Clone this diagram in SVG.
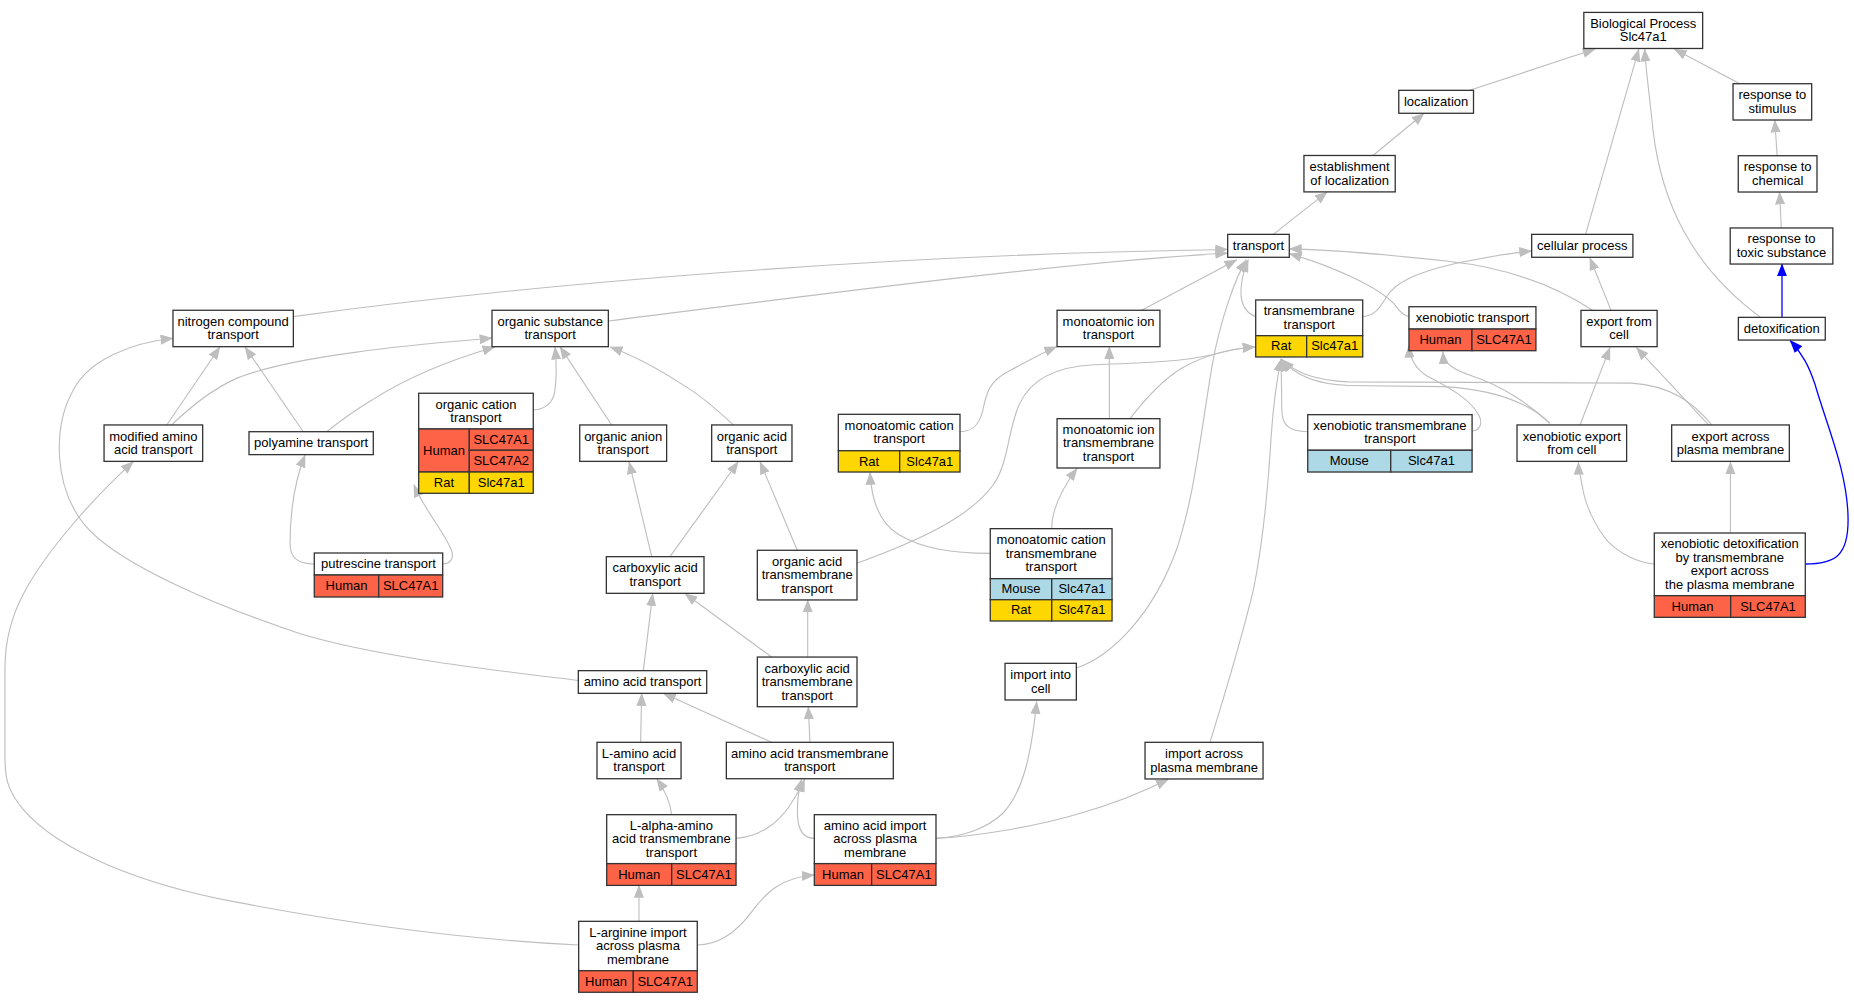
<svg xmlns="http://www.w3.org/2000/svg" width="1854" height="1003" viewBox="0 0 1854 1003">
<style>
.n rect{fill:#ffffff;stroke:#333333;stroke-width:1.1}
.n rect.r{fill:#ff6347}
.n rect.y{fill:#ffd700}
.n rect.l{fill:#add8e6}
.n text{font-family:"Liberation Sans",Arial,sans-serif;font-size:11px;text-anchor:middle;fill:#000000}
.e path{fill:none;stroke:#bebebe;stroke-width:0.95;marker-end:url(#ag)}
.e path.b{stroke:#0000ff;stroke-width:1.1;marker-end:url(#ab)}
</style>
<defs>
<marker id="ag" viewBox="0 0 11 8.6" refX="10.5" refY="4.3" markerWidth="11" markerHeight="8.6" markerUnits="userSpaceOnUse" orient="auto"><path d="M0,0 L11,4.3 L0,8.6 z" fill="#bebebe"/></marker>
<marker id="ab" viewBox="0 0 11 8.6" refX="10.5" refY="4.3" markerWidth="11" markerHeight="8.6" markerUnits="userSpaceOnUse" orient="auto"><path d="M0,0 L11,4.3 L0,8.6 z" fill="#0000ff"/></marker>
</defs>
<rect x="0" y="0" width="1854" height="1003" fill="#ffffff"/>
<g transform="scale(1.1824)">
<g id="edges" class="e">
<path d="M1243,76.4 L1349,41.5"/>
<path d="M1471.4,70.8 L1416,41.5"/>
<path d="M1341,198.2 L1386,41.5"/>
<path d="M1489,268.4 C1430,225 1405,170 1398,110 C1395,80 1392,60 1391,41.5"/>
<path d="M1161.2,131.5 L1204.5,95.8"/>
<path d="M1076.9,198.2 L1122.5,162.3"/>
<path d="M1503,131.7 L1501,101.5"/>
<path d="M1506.5,192.8 L1505,162.4"/>
<path class="b" d="M1507.1,268.4 L1507.1,223.3"/>
<path class="b" d="M1526.8,477 C1552,477 1563,470 1563,440 C1563,400 1545,360 1535,325 C1530,310 1525,300 1514,288"/>
<path d="M248,267.8 C450,240 750,215 1038.3,211"/>
<path d="M514.5,271.5 C700,248 900,222 1038.3,214"/>
<path d="M965.5,262.4 L1046,219.6"/>
<path d="M1062,267.8 C1052,264 1048,255 1050,240 C1051,232 1053,226 1055.7,219.6"/>
<path d="M910.3,565 C940,555 975,520 995,465 C1010,420 1015,370 1025,310 C1032,270 1045,235 1054,219.6"/>
<path d="M1191.6,267.8 C1184,266 1182,260 1178,256 C1165,243 1130,226 1090.4,214.5"/>
<path d="M1347.5,262.8 C1310,238 1270,226 1225,221 C1170,215 1120,211 1090.4,210.5"/>
<path d="M1362.5,262.5 L1344.6,218"/>
<path d="M1152.5,267.8 C1162,267 1166,262 1172,252 C1180,238 1200,230 1230,223 C1255,218 1275,214 1295.4,212.3"/>
<path d="M1336.3,359.4 L1361.6,294"/>
<path d="M1445,359.4 L1384,294"/>
<path d="M1447.6,359.4 C1432,340 1412,326 1380,324 L1140,323 C1112,322 1094,314 1084,304"/>
<path d="M1311,358 C1290,338 1260,329 1220,327 L1140,326 C1110,325 1094,316 1084,304"/>
<path d="M1310.6,358 C1295,343 1270,326 1245,318 C1230,313 1221,308 1220.3,297.5"/>
<path d="M1245,364.5 C1253,364 1254,356 1250,350 C1242,336 1222,326 1207,318 C1197,312 1192,302 1191.6,292"/>
<path d="M1106,365.1 C1090,365 1084,360 1084,345 C1084,330 1083.5,315 1083.5,303.5"/>
<path d="M955.7,354.1 C968,338 985,320 1000,311 C1020,300 1040,295 1061.4,293.5"/>
<path d="M724.8,476.4 C775,458 820,438 840,410 C853,392 852,365 862,342 C872,320 895,310 925,308.5 C965,307 1000,306 1025,300 C1040,296 1050,294 1061.4,293.5"/>
<path d="M811.9,365.1 C822,365 828,360 831,348 C834,333 836,322 855,313 C868,306 880,299 893.7,293.2"/>
<path d="M938.2,354.1 L938.2,293.2"/>
<path d="M837.5,468 C805,468 780,464 760,452 C745,443 737,425 735.8,399.5"/>
<path d="M889.5,447.1 C889.5,432 896,416 911,396"/>
<path d="M517.3,359.4 L473.6,293.2"/>
<path d="M620.2,359.4 C608,348 593,335 580,327 C560,314 540,302 515.9,293.5"/>
<path d="M451,346.8 C460,346 467,342 469,332 C471,320 470.5,305 469.4,293.5"/>
<path d="M141,359.4 L186,293.5"/>
<path d="M145.2,359.4 C160,345 178,330 200,320 C230,308 270,302 300,298 C340,292 380,289 416.1,286"/>
<path d="M256.5,365.1 L207.2,293.5"/>
<path d="M276.3,365.1 C290,354 300,347 315,338 C340,322 375,306 418.6,293.4"/>
<path d="M265.8,477 C252,477 245.3,472 245.3,460 C245.3,430 250,405 258,384.8"/>
<path d="M374.4,477 C381,477 384,472 382,466 C378,455 370,445 362,432 C357,424 353,417 350,410"/>
<path d="M551.2,470.8 L532,390.5"/>
<path d="M566.6,470.8 L624.4,390.5"/>
<path d="M674.3,465.4 L642.8,390.5"/>
<path d="M544.1,567.2 L552,502"/>
<path d="M652.6,555.7 L579.3,502"/>
<path d="M683.1,555.7 L683.1,507.4"/>
<path d="M489.1,575.5 C420,567 320,556 254,536 C200,518 100,480 70.5,442.6 C45,410 45,360 62,329.8 C75,305 110,290 146.3,286.1"/>
<path d="M489.4,799.2 C400,795 300,782 200,763 C120,748 50,720 20,685 C5,668 4.2,655 4.2,640 L4.2,565 C4.2,540 10,520 21,500 C40,465 80,420 112.8,390.4"/>
<path d="M541.8,627.8 L542.7,586.4"/>
<path d="M652.6,627.8 L561,586.4"/>
<path d="M685,627.8 L683.6,597.7"/>
<path d="M568,689 C567,678 562,668 555.4,658.6"/>
<path d="M622.5,709 C640,708 658,698 670,678 C675,670 678,665 680.5,659"/>
<path d="M688.7,709 C678,709 675,700 674.5,690 C674,680 675,670 678,659"/>
<path d="M791.6,709 C815,708 835,700 848,688 C865,670 872,640 876.8,593.4"/>
<path d="M791.6,709 C830,707 880,698 913,688 C945,679 970,668 988.1,659"/>
<path d="M1023.3,627.8 C1035,590 1050,540 1060,499 C1068,460 1072,420 1075,370 C1077,340 1080,320 1083.5,303.5"/>
<path d="M540.4,779.2 L540.4,748.8"/>
<path d="M589.7,799.2 C605,799 620,792 635,772 C648,755 660,742 688.7,740"/>
<path d="M1399.1,477 C1385,476 1370,468 1360,458 C1348,444 1340,425 1338,410 C1336,400 1335,395 1334.9,391"/>
<path d="M1463.5,450.8 L1463.5,390.5"/>
</g>
<g id="bp" class="n"><rect x="1339.5" y="10.5" width="100.5" height="30.5"/><text x="1389.75" y="23.55">Biological Process</text><text x="1389.75" y="34.95">Slc47a1</text></g>
<g id="localization" class="n"><rect x="1183" y="76.4" width="63.2" height="19.4"/><text x="1214.6" y="89.6">localization</text></g>
<g id="establishment" class="n"><rect x="1102.8" y="131.5" width="77.2" height="30.8"/><text x="1141.4" y="144.7">establishment</text><text x="1141.4" y="156.1">of localization</text></g>
<g id="transport" class="n"><rect x="1038.3" y="198.2" width="52.1" height="19.4"/><text x="1064.35" y="211.4">transport</text></g>
<g id="cellular-process" class="n"><rect x="1295.4" y="198.2" width="85.6" height="19.4"/><text x="1338.2" y="211.4">cellular process</text></g>
<g id="response-stimulus" class="n"><rect x="1465.7" y="70.8" width="66.5" height="30.7"/><text x="1498.95" y="83.95">response to</text><text x="1498.95" y="95.35">stimulus</text></g>
<g id="response-chemical" class="n"><rect x="1470.1" y="131.7" width="66.6" height="30.7"/><text x="1503.4" y="144.85">response to</text><text x="1503.4" y="156.25">chemical</text></g>
<g id="response-toxic" class="n"><rect x="1463.3" y="192.8" width="86.8" height="30.5"/><text x="1506.7" y="205.85">response to</text><text x="1506.7" y="217.25">toxic substance</text></g>
<g id="detoxification" class="n"><rect x="1470.2" y="268.4" width="73.5" height="19.2"/><text x="1506.95" y="281.5">detoxification</text></g>
<g id="export-from-cell" class="n"><rect x="1337.1" y="262.5" width="64.4" height="30.7"/><text x="1369.3" y="275.65">export from</text><text x="1369.3" y="287.05">cell</text></g>
<g id="xenobiotic-transport" class="n"><rect x="1191.6" y="259.4" width="107.4" height="18.9"/><rect class="r" x="1191.6" y="278.3" width="53.3" height="18.3"/><rect class="r" x="1244.9" y="278.3" width="54.1" height="18.3"/><text x="1245.3" y="272.35">xenobiotic transport</text><text x="1218.25" y="290.95">Human</text><text x="1271.95" y="290.95">SLC47A1</text></g>
<g id="transmembrane-transport" class="n"><rect x="1062" y="253.7" width="90.5" height="30.2"/><rect class="y" x="1062" y="283.9" width="43.1" height="18"/><rect class="y" x="1105.1" y="283.9" width="47.4" height="18"/><text x="1107.25" y="266.6">transmembrane</text><text x="1107.25" y="278">transport</text><text x="1083.55" y="296.4">Rat</text><text x="1128.8" y="296.4">Slc47a1</text></g>
<g id="monoatomic-ion-transport" class="n"><rect x="894" y="262.4" width="87" height="30.8"/><text x="937.5" y="275.6">monoatomic ion</text><text x="937.5" y="287">transport</text></g>
<g id="organic-substance-transport" class="n"><rect x="416.1" y="262.4" width="98.4" height="30.8"/><text x="465.3" y="275.6">organic substance</text><text x="465.3" y="287">transport</text></g>
<g id="nitrogen-compound-transport" class="n"><rect x="146.3" y="262.4" width="101.8" height="30.8"/><text x="197.2" y="275.6">nitrogen compound</text><text x="197.2" y="287">transport</text></g>
<g id="modified-amino-acid-transport" class="n"><rect x="88" y="359.4" width="83.4" height="30.8"/><text x="129.7" y="372.6">modified amino</text><text x="129.7" y="384">acid transport</text></g>
<g id="polyamine-transport" class="n"><rect x="210.6" y="365.1" width="105.1" height="19.4"/><text x="263.15" y="378.3">polyamine transport</text></g>
<g id="organic-cation-transport" class="n"><rect x="354.1" y="332.6" width="96.9" height="30.2"/><rect class="r" x="354.1" y="362.8" width="42.8" height="36.4"/><rect class="r" x="396.9" y="362.8" width="54.1" height="18"/><rect class="r" x="396.9" y="380.8" width="54.1" height="18.4"/><rect class="y" x="354.1" y="399.2" width="42.8" height="18"/><rect class="y" x="396.9" y="399.2" width="54.1" height="18"/><text x="402.55" y="345.5">organic cation</text><text x="402.55" y="356.9">transport</text><text x="375.5" y="384.5">Human</text><text x="423.95" y="375.3">SLC47A1</text><text x="423.95" y="393.5">SLC47A2</text><text x="375.5" y="411.7">Rat</text><text x="423.95" y="411.7">Slc47a1</text></g>
<g id="organic-anion-transport" class="n"><rect x="490.3" y="359.4" width="73.5" height="30.8"/><text x="527.05" y="372.6">organic anion</text><text x="527.05" y="384">transport</text></g>
<g id="organic-acid-transport" class="n"><rect x="601.9" y="359.4" width="67.9" height="30.8"/><text x="635.85" y="372.6">organic acid</text><text x="635.85" y="384">transport</text></g>
<g id="monoatomic-cation-transport" class="n"><rect x="709" y="350.4" width="102.9" height="30.8"/><rect class="y" x="709" y="381.2" width="51.9" height="18"/><rect class="y" x="760.9" y="381.2" width="51" height="18"/><text x="760.45" y="363.6">monoatomic cation</text><text x="760.45" y="375">transport</text><text x="734.95" y="393.7">Rat</text><text x="786.4" y="393.7">Slc47a1</text></g>
<g id="monoatomic-ion-transmembrane-transport" class="n"><rect x="894" y="354.1" width="87" height="41.7"/><text x="937.5" y="367.05">monoatomic ion</text><text x="937.5" y="378.45">transmembrane</text><text x="937.5" y="389.85">transport</text></g>
<g id="xenobiotic-transmembrane-transport" class="n"><rect x="1106" y="350.7" width="139" height="30.1"/><rect class="l" x="1106" y="380.8" width="70.2" height="18.4"/><rect class="l" x="1176.2" y="380.8" width="68.8" height="18.4"/><text x="1175.5" y="363.55">xenobiotic transmembrane</text><text x="1175.5" y="374.95">transport</text><text x="1141.1" y="393.5">Mouse</text><text x="1210.6" y="393.5">Slc47a1</text></g>
<g id="xenobiotic-export-from-cell" class="n"><rect x="1283" y="359.4" width="92.7" height="30.8"/><text x="1329.35" y="372.6">xenobiotic export</text><text x="1329.35" y="384">from cell</text></g>
<g id="export-across-plasma-membrane" class="n"><rect x="1413.8" y="359.4" width="99.5" height="30.8"/><text x="1463.55" y="372.6">export across</text><text x="1463.55" y="384">plasma membrane</text></g>
<g id="putrescine-transport" class="n"><rect x="265.8" y="467.7" width="108.6" height="18.6"/><rect class="r" x="265.8" y="486.3" width="54.5" height="18.6"/><rect class="r" x="320.3" y="486.3" width="54.1" height="18.6"/><text x="320.1" y="480.5">putrescine transport</text><text x="293.05" y="499.1">Human</text><text x="347.35" y="499.1">SLC47A1</text></g>
<g id="carboxylic-acid-transport" class="n"><rect x="512.8" y="470.8" width="82.6" height="31"/><text x="554.1" y="484.1">carboxylic acid</text><text x="554.1" y="495.5">transport</text></g>
<g id="organic-acid-transmembrane-transport" class="n"><rect x="640.5" y="465.4" width="84.3" height="42"/><text x="682.65" y="478.5">organic acid</text><text x="682.65" y="489.9">transmembrane</text><text x="682.65" y="501.3">transport</text></g>
<g id="monoatomic-cation-transmembrane-transport" class="n"><rect x="837.5" y="447.1" width="103" height="42.3"/><rect class="l" x="837.5" y="489.4" width="52" height="17.8"/><rect class="l" x="889.5" y="489.4" width="51" height="17.8"/><rect class="y" x="837.5" y="507.2" width="52" height="18"/><rect class="y" x="889.5" y="507.2" width="51" height="18"/><text x="889" y="460.35">monoatomic cation</text><text x="889" y="471.75">transmembrane</text><text x="889" y="483.15">transport</text><text x="863.5" y="501.8">Mouse</text><text x="915" y="501.8">Slc47a1</text><text x="863.5" y="519.7">Rat</text><text x="915" y="519.7">Slc47a1</text></g>
<g id="xenobiotic-detoxification" class="n"><rect x="1399.1" y="450.8" width="127.7" height="53"/><rect class="r" x="1399.1" y="503.8" width="64.6" height="18.3"/><rect class="r" x="1463.7" y="503.8" width="63.1" height="18.3"/><text x="1462.95" y="463.7">xenobiotic detoxification</text><text x="1462.95" y="475.1">by transmembrane</text><text x="1462.95" y="486.5">export across</text><text x="1462.95" y="497.9">the plasma membrane</text><text x="1431.4" y="516.45">Human</text><text x="1495.25" y="516.45">SLC47A1</text></g>
<g id="amino-acid-transport" class="n"><rect x="489.1" y="567.2" width="108.6" height="19.2"/><text x="543.4" y="580.3">amino acid transport</text></g>
<g id="carboxylic-acid-transmembrane-transport" class="n"><rect x="640.5" y="555.7" width="84.3" height="42"/><text x="682.65" y="568.8">carboxylic acid</text><text x="682.65" y="580.2">transmembrane</text><text x="682.65" y="591.6">transport</text></g>
<g id="import-into-cell" class="n"><rect x="850" y="561" width="60.3" height="31"/><text x="880.15" y="574.3">import into</text><text x="880.15" y="585.7">cell</text></g>
<g id="import-across-plasma-membrane" class="n"><rect x="968.4" y="627.8" width="99.8" height="31"/><text x="1018.3" y="641.1">import across</text><text x="1018.3" y="652.5">plasma membrane</text></g>
<g id="l-amino-acid-transport" class="n"><rect x="504.9" y="627.8" width="71.1" height="30.8"/><text x="540.45" y="641">L-amino acid</text><text x="540.45" y="652.4">transport</text></g>
<g id="amino-acid-transmembrane-transport" class="n"><rect x="614.3" y="627.8" width="141.2" height="30.8"/><text x="684.9" y="641">amino acid transmembrane</text><text x="684.9" y="652.4">transport</text></g>
<g id="l-alpha-amino-acid-transmembrane-transport" class="n"><rect x="513.1" y="689" width="109.4" height="41.4"/><rect class="r" x="513.1" y="730.4" width="55" height="18.4"/><rect class="r" x="568.1" y="730.4" width="54.4" height="18.4"/><text x="567.8" y="701.8">L-alpha-amino</text><text x="567.8" y="713.2">acid transmembrane</text><text x="567.8" y="724.6">transport</text><text x="540.6" y="743.1">Human</text><text x="595.3" y="743.1">SLC47A1</text></g>
<g id="amino-acid-import-across-plasma-membrane" class="n"><rect x="688.7" y="689" width="102.9" height="41.4"/><rect class="r" x="688.7" y="730.4" width="48.5" height="18.4"/><rect class="r" x="737.2" y="730.4" width="54.4" height="18.4"/><text x="740.15" y="701.8">amino acid import</text><text x="740.15" y="713.2">across plasma</text><text x="740.15" y="724.6">membrane</text><text x="712.95" y="743.1">Human</text><text x="764.4" y="743.1">SLC47A1</text></g>
<g id="l-arginine-import-across-plasma-membrane" class="n"><rect x="489.4" y="779.2" width="100.3" height="41.8"/><rect class="r" x="489.4" y="821" width="46.2" height="18.2"/><rect class="r" x="535.6" y="821" width="54.1" height="18.2"/><text x="539.55" y="792.2">L-arginine import</text><text x="539.55" y="803.6">across plasma</text><text x="539.55" y="815">membrane</text><text x="512.5" y="833.6">Human</text><text x="562.65" y="833.6">SLC47A1</text></g>
</g>
</svg>
